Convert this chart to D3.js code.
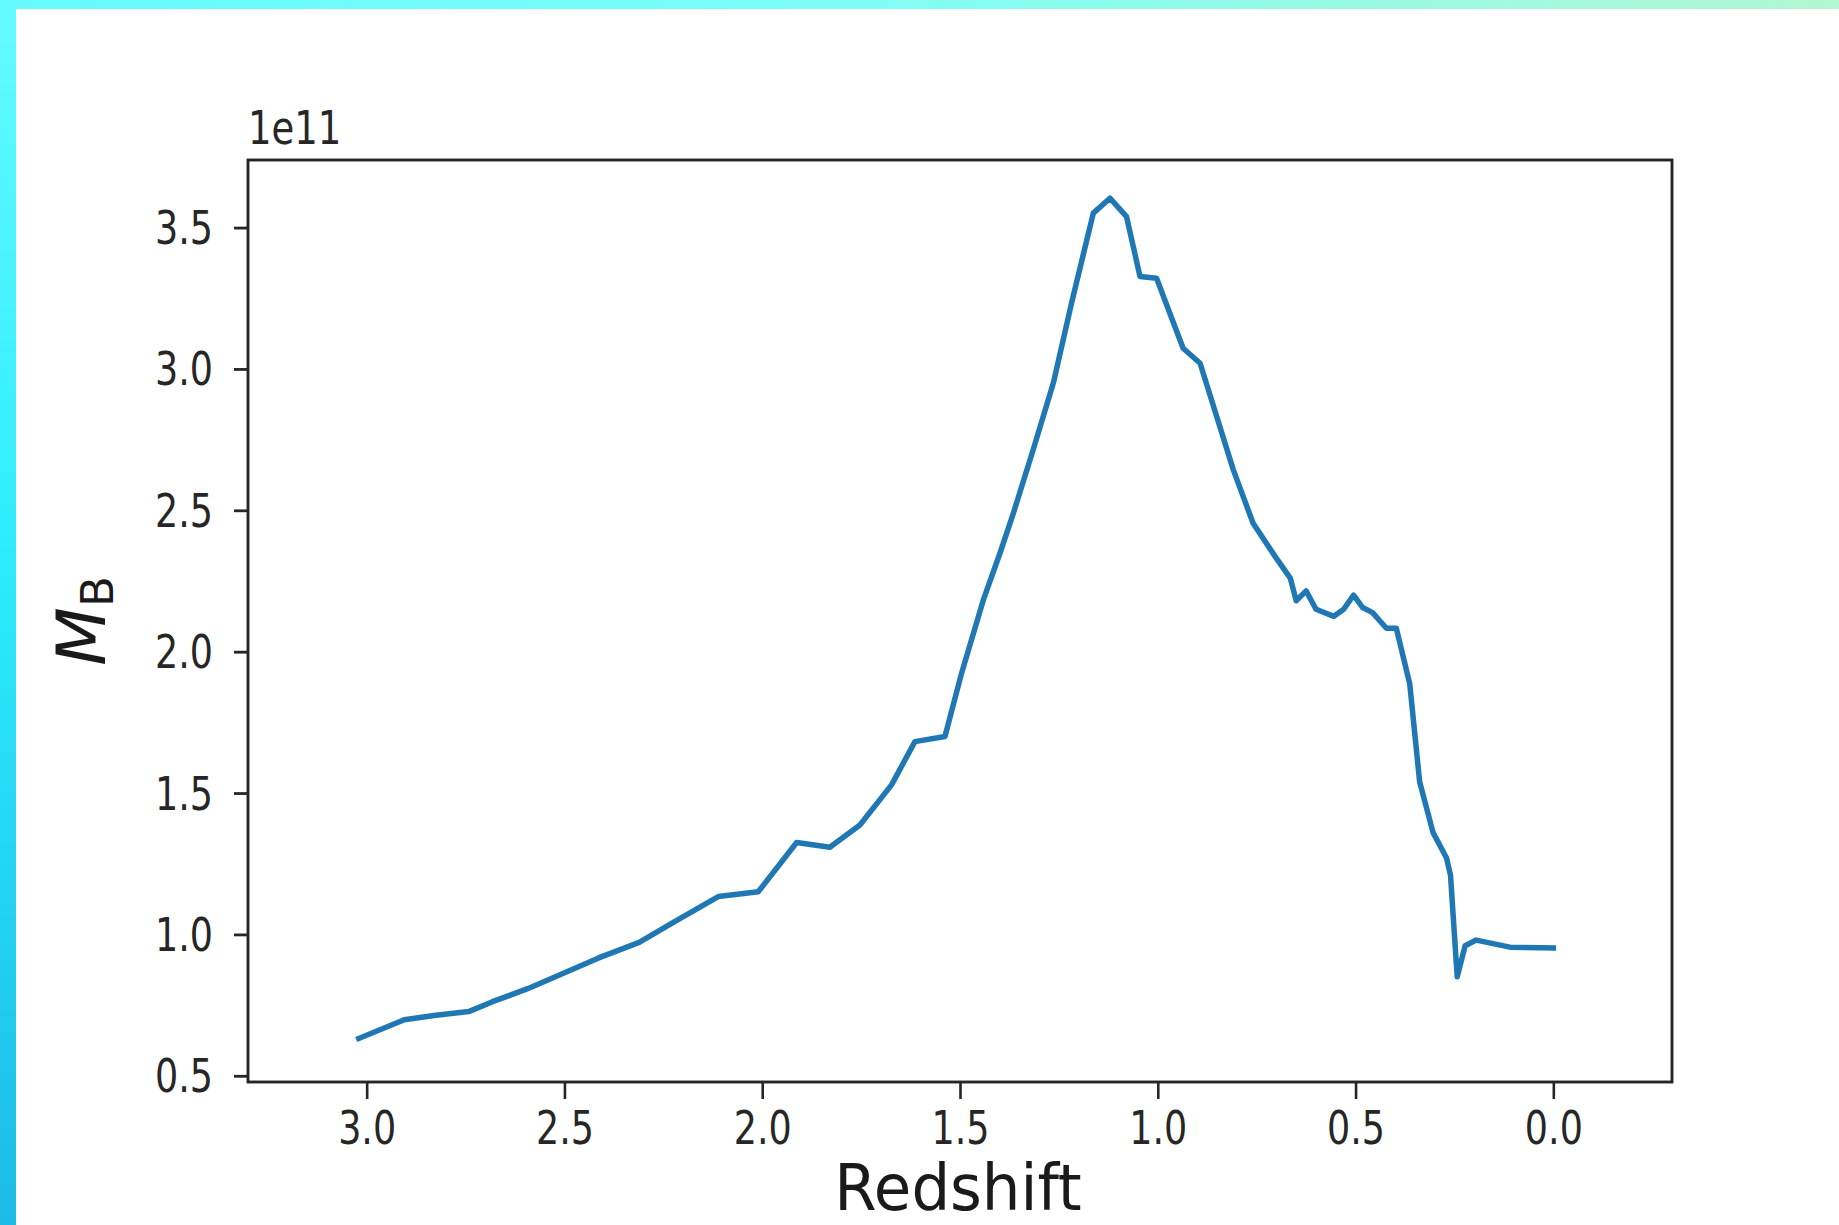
<!DOCTYPE html>
<html>
<head>
<meta charset="utf-8">
<script src="https://cdn.jsdelivr.net/npm/d3@7"></script>
<style>
  html, body { margin: 0; padding: 0; background: #fff; }
  svg { display: block; }
  text { font-family: "DejaVu Sans", sans-serif; }
</style>
</head>
<body>
<svg id="chart" width="1839" height="1225"></svg>
<script>
// Baryonic mass history against redshift (values in units of 1e11)
const redshift = [3.02, 2.905, 2.825, 2.742, 2.682, 2.593, 2.504, 2.415, 2.311, 2.216,
  2.111, 2.010, 1.913, 1.829, 1.753, 1.673, 1.614, 1.538, 1.496, 1.441,
  1.399, 1.365, 1.315, 1.264, 1.218, 1.163, 1.121, 1.079, 1.045, 1.003,
  0.936, 0.893, 0.809, 0.759, 0.700, 0.665, 0.650, 0.625, 0.600, 0.555,
  0.530, 0.505, 0.482, 0.457, 0.422, 0.397, 0.363, 0.338, 0.304, 0.270,
  0.260, 0.243, 0.223, 0.195, 0.110, 0.0];
const massB = [0.632, 0.698, 0.714, 0.727, 0.762, 0.808, 0.862, 0.916, 0.972, 1.050,
  1.134, 1.151, 1.325, 1.308, 1.387, 1.529, 1.682, 1.700, 1.924, 2.183,
  2.348, 2.490, 2.714, 2.950, 3.233, 3.551, 3.604, 3.539, 3.327, 3.321,
  3.073, 3.020, 2.643, 2.454, 2.330, 2.260, 2.180, 2.215, 2.150, 2.125,
  2.150, 2.200, 2.156, 2.138, 2.083, 2.083, 1.886, 1.540, 1.360, 1.270,
  1.210, 0.850, 0.960, 0.980, 0.955, 0.952];
const xTicks = [3.0, 2.5, 2.0, 1.5, 1.0, 0.5, 0.0];
const yTicks = [0.5, 1.0, 1.5, 2.0, 2.5, 3.0, 3.5];

const W = 1839, H = 1225;
const plot = { left: 248, right: 1672, top: 160, bottom: 1082 };

const svg = d3.select("#chart");
const defs = svg.append("defs");

// Frame gradients
const gTop = defs.append("linearGradient").attr("id", "gTop")
  .attr("x1", "0%").attr("x2", "100%").attr("y1", "0%").attr("y2", "0%");
gTop.append("stop").attr("offset", "0%").attr("stop-color", "#64fbff");
gTop.append("stop").attr("offset", "45%").attr("stop-color", "#7cfdf6");
gTop.append("stop").attr("offset", "100%").attr("stop-color", "#b2f6d2");

const gLeft = defs.append("linearGradient").attr("id", "gLeft")
  .attr("x1", "0%").attr("x2", "0%").attr("y1", "0%").attr("y2", "100%");
gLeft.append("stop").attr("offset", "0%").attr("stop-color", "#64fbff");
gLeft.append("stop").attr("offset", "45%").attr("stop-color", "#2cecfc");
gLeft.append("stop").attr("offset", "100%").attr("stop-color", "#1abbe6");

svg.append("rect").attr("x", 0).attr("y", 0).attr("width", W).attr("height", 9).attr("fill", "url(#gTop)");
svg.append("rect").attr("x", 0).attr("y", 0).attr("width", 16).attr("height", H).attr("fill", "url(#gLeft)");
svg.append("rect").attr("x", 16).attr("y", 9).attr("width", W - 16).attr("height", H - 9).attr("fill", "#ffffff");

const x = d3.scaleLinear().domain([3.3, -0.3]).range([plot.left, plot.right]);
const y = d3.scaleLinear().domain([0.478, 3.739]).range([plot.bottom, plot.top]);

const inkColor = "#262626";
const stretch = 1.27;

// Data line
const line = d3.line().x((d, i) => x(redshift[i])).y(d => y(d));
svg.append("path")
  .datum(massB)
  .attr("d", line)
  .attr("fill", "none")
  .attr("stroke", "#1f77b4")
  .attr("stroke-width", 5.5)
  .attr("stroke-linejoin", "round")
  .attr("stroke-linecap", "square");

// X axis
const xAxis = svg.append("g")
  .attr("transform", `translate(0,${plot.bottom})`)
  .call(d3.axisBottom(x).tickValues(xTicks).tickFormat(d3.format(".1f")).tickSize(17));
xAxis.select(".domain").remove();
xAxis.selectAll(".tick line").attr("stroke", inkColor).attr("stroke-width", 2.6);
xAxis.selectAll(".tick text")
  .attr("y", null).attr("dy", null)
  .attr("transform", `translate(0,62) scale(1,${stretch})`)
  .attr("font-size", 36.5)
  .attr("fill", inkColor)
  .attr("text-anchor", "middle");

// Y axis
const yAxis = svg.append("g")
  .attr("transform", `translate(${plot.left},0)`)
  .call(d3.axisLeft(y).tickValues(yTicks).tickFormat(d3.format(".1f")).tickSize(14));
yAxis.select(".domain").remove();
yAxis.selectAll(".tick line").attr("stroke", inkColor).attr("stroke-width", 2.8);
yAxis.selectAll(".tick text")
  .attr("x", null).attr("dy", null)
  .attr("transform", `translate(-35,16) scale(1,${stretch})`)
  .attr("font-size", 36.5)
  .attr("fill", inkColor)
  .attr("text-anchor", "end");

// Axes frame
svg.append("rect")
  .attr("x", plot.left).attr("y", plot.top)
  .attr("width", plot.right - plot.left).attr("height", plot.bottom - plot.top)
  .attr("fill", "none").attr("stroke", inkColor).attr("stroke-width", 2.9);

// Offset text
svg.append("text")
  .attr("transform", `translate(${plot.left},144) scale(1,${stretch})`)
  .attr("font-size", 37)
  .attr("fill", inkColor)
  .text("1e11");

// X label
svg.append("text")
  .attr("transform", `translate(${(plot.left + plot.right) / 2 - 2},1210) scale(1,1.05)`)
  .attr("font-size", 61)
  .attr("text-anchor", "middle")
  .attr("fill", "#1a1a1a")
  .text("Redshift");

// Y label: italic M with roman subscript B
const yl = svg.append("text")
  .attr("transform", `translate(105,${(plot.top + plot.bottom) / 2}) rotate(-90)`)
  .attr("text-anchor", "middle")
  .attr("fill", "#1a1a1a");
yl.append("tspan").attr("font-size", 68).attr("font-style", "italic").text("M");
yl.append("tspan").attr("font-size", 45).attr("dy", 8).text("B");
</script>
</body>
</html>
